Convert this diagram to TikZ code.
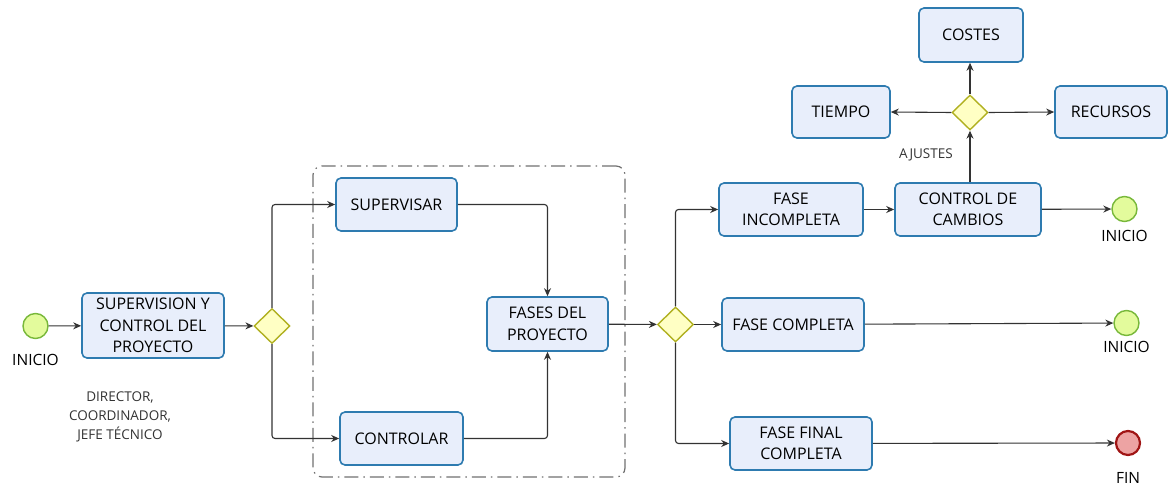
\documentclass[tikz,border=0pt]{standalone}
\usepackage{fontspec}
\setmainfont{Open Sans}
\usetikzlibrary{shapes.geometric,arrows.meta}
\definecolor{taskfill}{HTML}{E8EEFB}
\definecolor{taskline}{HTML}{2E7BB0}
\definecolor{gatefill}{HTML}{FFFFC4}
\definecolor{gateline}{HTML}{B0B020}
\definecolor{startfill}{HTML}{E3FB9C}
\definecolor{startline}{HTML}{78B83A}
\definecolor{endfill}{HTML}{EDA3A3}
\definecolor{endline}{HTML}{A01515}
\definecolor{flow}{HTML}{333333}
\definecolor{groupline}{HTML}{707070}

\begin{document}
\begin{tikzpicture}[x=1pt,y=-1pt,
  task/.style={draw=taskline, fill=taskfill, line width=1.6pt, rounded corners=5pt,
    align=center, inner sep=0pt, font=\fontsize{16}{21.5}\selectfont},
  gate/.style={diamond, draw=gateline, fill=gatefill, line width=1.4pt,
    minimum width=36pt, minimum height=35pt, inner sep=0pt},
  startev/.style={circle, draw=startline, fill=startfill, line width=1.4pt,
    minimum size=25pt, inner sep=0pt},
  endev/.style={circle, draw=endline, fill=endfill, line width=2.2pt,
    minimum size=24pt, inner sep=0pt},
  lbl/.style={font=\fontsize{15.5}{17}\selectfont, inner sep=0pt},
  note/.style={font=\fontsize{13.5}{19}\selectfont, align=center, text=black!80, inner sep=0pt},
  flowline/.style={draw=flow, line width=1.1pt, rounded corners=3pt,
    -{Stealth[length=8pt,width=7pt]}},
  groupbox/.style={draw=groupline, line width=1.2pt, rounded corners=9pt,
    dash pattern=on 14pt off 5pt on 1.5pt off 5pt},
]
\useasboundingbox (0,0) rectangle (1168,486);

% group frame around supervision and control
\node[groupbox, minimum width=312pt, minimum height=311pt] (grp) at (469,321.5) {};

% events
\node[startev] (s1) at (35.5,326) {};
\node[lbl] (s1l) at (35.5,360) {INICIO};
\node[startev] (s2) at (1124.5,209) {};
\node[lbl] (s2l) at (1124.5,236) {INICIO};
\node[startev] (s3) at (1126.5,323) {};
\node[lbl] (s3l) at (1126.5,347) {INICIO};
\node[endev] (e1) at (1128,443) {};
\node[lbl] (e1l) at (1128,478) {FIN};

% tasks
\node[task, minimum width=142pt, minimum height=65pt] (sup) at (153,325.5) {SUPERVISION Y\\CONTROL DEL\\PROYECTO};
\node[task, minimum width=121pt, minimum height=53pt] (supv) at (396.5,204.5) {SUPERVISAR};
\node[task, minimum width=123pt, minimum height=53pt] (ctrl) at (401.5,438.5) {CONTROLAR};
\node[task, minimum width=121pt, minimum height=54pt] (fases) at (547.5,324) {FASES DEL\\PROYECTO};
\node[task, minimum width=144pt, minimum height=53pt] (finc) at (791,209.5) {FASE\\INCOMPLETA};
\node[task, minimum width=146pt, minimum height=53pt] (cc) at (968,209.5) {CONTROL DE\\CAMBIOS};
\node[task, minimum width=142pt, minimum height=53pt] (fcomp) at (793,324.5) {FASE COMPLETA};
\node[task, minimum width=142pt, minimum height=53pt] (ffin) at (801,443.5) {FASE FINAL\\COMPLETA};
\node[task, minimum width=104pt, minimum height=54pt] (costes) at (971,35) {COSTES};
\node[task, minimum width=98pt, minimum height=52pt] (tiempo) at (841,112) {TIEMPO};
\node[task, minimum width=112pt, minimum height=52pt] (recursos) at (1111,112) {RECURSOS};

% gateways
\node[gate] (g1) at (272,326) {};
\node[gate] (g2) at (675.5,324.5) {};
\node[gate] (g3) at (970,112.5) {};

% notes
\node[note] (roles) at (120,417) {DIRECTOR,\\COORDINADOR,\\JEFE TÉCNICO};
\node[note] (ajustes) at (926,155) {AJUSTES};

% sequence flows
\draw[flowline] (s1) -- (sup);
\draw[flowline] (sup) -- (g1);
\draw[flowline] (g1.north) |- (supv.west);
\draw[flowline] (g1.south) |- (ctrl.west);
\draw[flowline] (supv.east) -| (fases.north);
\draw[flowline] (ctrl.east) -| (fases.south);
\draw[flowline] (fases) -- (g2);
\draw[flowline] (g2.north) |- (finc.west);
\draw[flowline] (g2.east) -- (fcomp.west);
\draw[flowline] (g2.south) |- (ffin.west);
\draw[flowline] (finc) -- (cc);
\draw[flowline] (cc) -- (s2);
\draw[flowline] (fcomp) -- (s3);
\draw[flowline] (ffin) -- (e1);
\draw[flowline] (cc.north -| g3.south) -- (g3.south);
\draw[flowline] (g3.north) -- (costes.south -| g3.north);
\draw[flowline] (g3.west) -- (tiempo.east);
\draw[flowline] (g3.east) -- (recursos.west);
\end{tikzpicture}
\end{document}
